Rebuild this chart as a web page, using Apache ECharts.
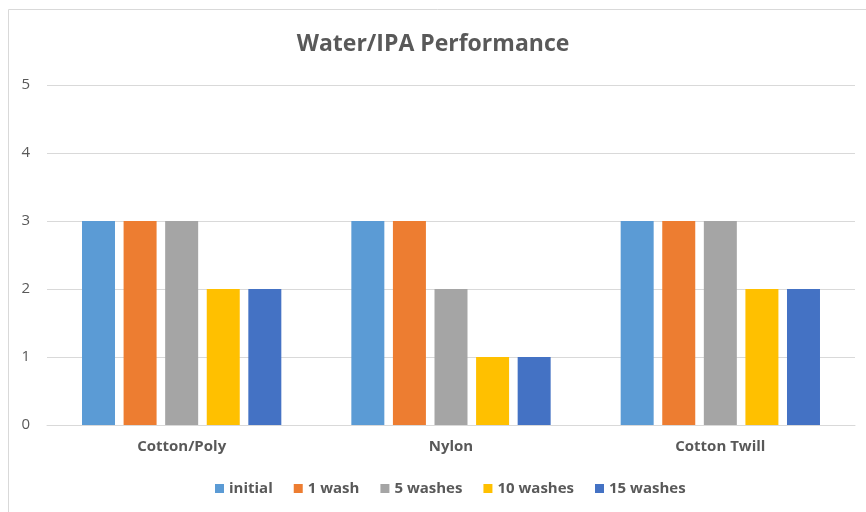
<!DOCTYPE html>
<html>
<head>
<meta charset="utf-8">
<script src="https://cdn.jsdelivr.net/npm/echarts@6/dist/echarts.min.js"></script>
<style>
  html, body { margin: 0; padding: 0; background: #fff; }
  #chart { width: 866px; height: 512px; }
</style>
</head>
<body>
<div id="chart"></div>
<script>
// 分类与数值
var categories = ['Cotton/Poly', 'Nylon', 'Cotton Twill'];
var seriesNames = ['initial', '1 wash', '5 washes', '10 washes', '15 washes'];
var initial = [3, 3, 3];
var wash1 = [3, 3, 3];
var wash5 = [3, 2, 3];
var wash10 = [2, 1, 2];
var wash15 = [2, 1, 2];
var colors = ['#5b9bd5', '#ed7d31', '#a5a5a5', '#ffc000', '#4472c4'];

var seriesData = [initial, wash1, wash5, wash10, wash15];
var textColor = '#595959';
var font = '"Open Sans", "Noto Sans", sans-serif';

var myChart = echarts.init(document.getElementById('chart'));
var option = {
  animation: false,
  color: colors,
  title: {
    text: 'Water/IPA Performance',
    left: 'center',
    top: 28,
    textStyle: { color: textColor, fontSize: 23, fontWeight: 'bold', fontFamily: font }
  },
  graphic: [{
    type: 'rect',
    shape: { x: 8.5, y: 9.5, width: 900, height: 600 },
    style: { fill: 'none', stroke: '#d9d9d9', lineWidth: 1 },
    silent: true
  }],
  legend: {
    bottom: 11,
    left: 210,
    itemWidth: 9,
    itemHeight: 9,
    itemGap: 21,
    icon: 'rect',
    textStyle: { color: textColor, fontSize: 15, fontWeight: 'bold', fontFamily: font }
  },
  grid: { left: 47, right: 11, top: 85, bottom: 87 },
  xAxis: {
    type: 'category',
    data: categories,
    axisTick: { show: false },
    axisLine: { lineStyle: { color: '#d9d9d9' } },
    axisLabel: { color: textColor, fontSize: 15, fontWeight: 'bold', margin: 14, fontFamily: font }
  },
  yAxis: {
    type: 'value',
    min: 0,
    max: 5,
    interval: 1,
    axisLabel: { color: textColor, fontSize: 15, margin: 17, fontFamily: font },
    splitLine: { lineStyle: { color: '#d9d9d9' } }
  },
  series: seriesNames.map(function (name, i) {
    return {
      name: name,
      type: 'bar',
      data: seriesData[i],
      barWidth: 33,
      barGap: '26%'
    };
  })
};
myChart.setOption(option);
</script>
</body>
</html>
